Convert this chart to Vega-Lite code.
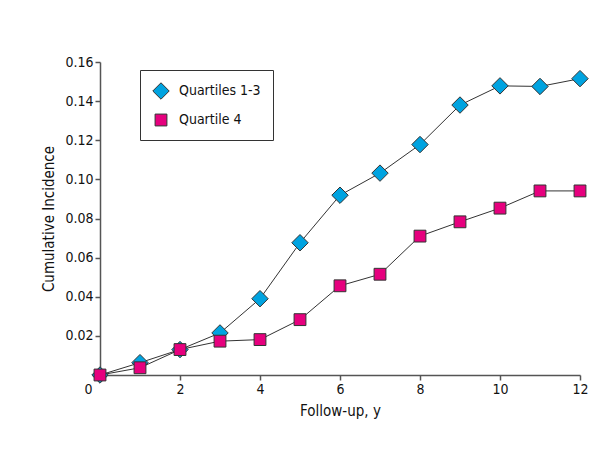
{
  "$schema": "https://vega.github.io/schema/vega-lite/v6.json",
  "autosize": {"type": "none"},
  "width": 480,
  "height": 313,
  "padding": {"left": 100, "top": 62, "right": 33, "bottom": 79},
  "background": "white",
  "config": {
    "view": {"stroke": null},
    "font": "DejaVu Sans Condensed, Liberation Sans, sans-serif",
    "axis": {
      "grid": false,
      "domainColor": "#555",
      "domainWidth": 1.5,
      "tickColor": "#555",
      "tickWidth": 1.5,
      "tickSize": 5,
      "labelFont": "DejaVu Sans Condensed, Liberation Sans, sans-serif",
      "labelFontSize": 14,
      "labelColor": "#111",
      "titleFont": "DejaVu Sans Condensed, Liberation Sans, sans-serif",
      "titleFontSize": 15,
      "titleFontWeight": "normal",
      "titleColor": "#111"
    },
    "legend": {
      "labelFont": "DejaVu Sans Condensed, Liberation Sans, sans-serif",
      "labelFontSize": 14,
      "labelColor": "#111"
    }
  },
  "data": {
    "values": [
      {"year": 0, "ci": 0.0, "group": "Quartiles 1-3"},
      {"year": 1, "ci": 0.0063, "group": "Quartiles 1-3"},
      {"year": 2, "ci": 0.013, "group": "Quartiles 1-3"},
      {"year": 3, "ci": 0.0215, "group": "Quartiles 1-3"},
      {"year": 4, "ci": 0.039, "group": "Quartiles 1-3"},
      {"year": 5, "ci": 0.0676, "group": "Quartiles 1-3"},
      {"year": 6, "ci": 0.0919, "group": "Quartiles 1-3"},
      {"year": 7, "ci": 0.1032, "group": "Quartiles 1-3"},
      {"year": 8, "ci": 0.1178, "group": "Quartiles 1-3"},
      {"year": 9, "ci": 0.138, "group": "Quartiles 1-3"},
      {"year": 10, "ci": 0.1478, "group": "Quartiles 1-3"},
      {"year": 11, "ci": 0.1475, "group": "Quartiles 1-3"},
      {"year": 12, "ci": 0.1515, "group": "Quartiles 1-3"},
      {"year": 0, "ci": 0.0, "group": "Quartile 4"},
      {"year": 1, "ci": 0.0037, "group": "Quartile 4"},
      {"year": 2, "ci": 0.013, "group": "Quartile 4"},
      {"year": 3, "ci": 0.0173, "group": "Quartile 4"},
      {"year": 4, "ci": 0.0181, "group": "Quartile 4"},
      {"year": 5, "ci": 0.0283, "group": "Quartile 4"},
      {"year": 6, "ci": 0.0456, "group": "Quartile 4"},
      {"year": 7, "ci": 0.0515, "group": "Quartile 4"},
      {"year": 8, "ci": 0.071, "group": "Quartile 4"},
      {"year": 9, "ci": 0.0783, "group": "Quartile 4"},
      {"year": 10, "ci": 0.0853, "group": "Quartile 4"},
      {"year": 11, "ci": 0.0941, "group": "Quartile 4"},
      {"year": 12, "ci": 0.0941, "group": "Quartile 4"}
    ]
  },
  "encoding": {
    "x": {
      "field": "year",
      "type": "quantitative",
      "scale": {"domain": [0, 12], "nice": false, "zero": false},
      "axis": {
        "title": "Follow-up, y",
        "values": [0, 2, 4, 6, 8, 10, 12],
        "labelAlign": {"condition": {"test": "datum.value == 0", "value": "right"}, "value": "center"},
        "labelOffset": {"condition": {"test": "datum.value == 0", "value": -8}, "value": 0},
        "titlePadding": 7
      }
    },
    "y": {
      "field": "ci",
      "type": "quantitative",
      "scale": {"domain": [0, 0.16], "nice": false},
      "axis": {
        "title": "Cumulative Incidence",
        "values": [0, 0.02, 0.04, 0.06, 0.08, 0.1, 0.12, 0.14, 0.16],
        "labelExpr": "datum.value == 0 ? '' : format(datum.value, '.2f')",
        "titlePadding": 8
      }
    }
  },
  "layer": [
    {
      "mark": {"type": "line", "color": "#333", "strokeWidth": 1},
      "encoding": {"detail": {"field": "group"}}
    },
    {
      "mark": {"type": "point", "filled": true, "stroke": "#333", "strokeWidth": 1, "opacity": 1},
      "encoding": {
        "fill": {
          "field": "group",
          "type": "nominal",
          "scale": {"domain": ["Quartiles 1-3", "Quartile 4"], "range": ["#00a3e0", "#e6007e"]},
          "legend": {
            "title": null,
            "orient": "none",
            "legendX": 40,
            "legendY": 8,
            "strokeColor": "#333",
            "fillColor": "white",
            "padding": 12,
            "rowPadding": 10,
            "symbolStrokeColor": "#333",
            "symbolStrokeWidth": 1,
            "labelOffset": 9
          }
        },
        "shape": {
          "field": "group",
          "type": "nominal",
          "scale": {"domain": ["Quartiles 1-3", "Quartile 4"], "range": ["diamond", "square"]}
        },
        "size": {
          "field": "group",
          "type": "nominal",
          "scale": {"domain": ["Quartiles 1-3", "Quartile 4"], "range": [270, 140]}
        }
      }
    }
  ]
}
